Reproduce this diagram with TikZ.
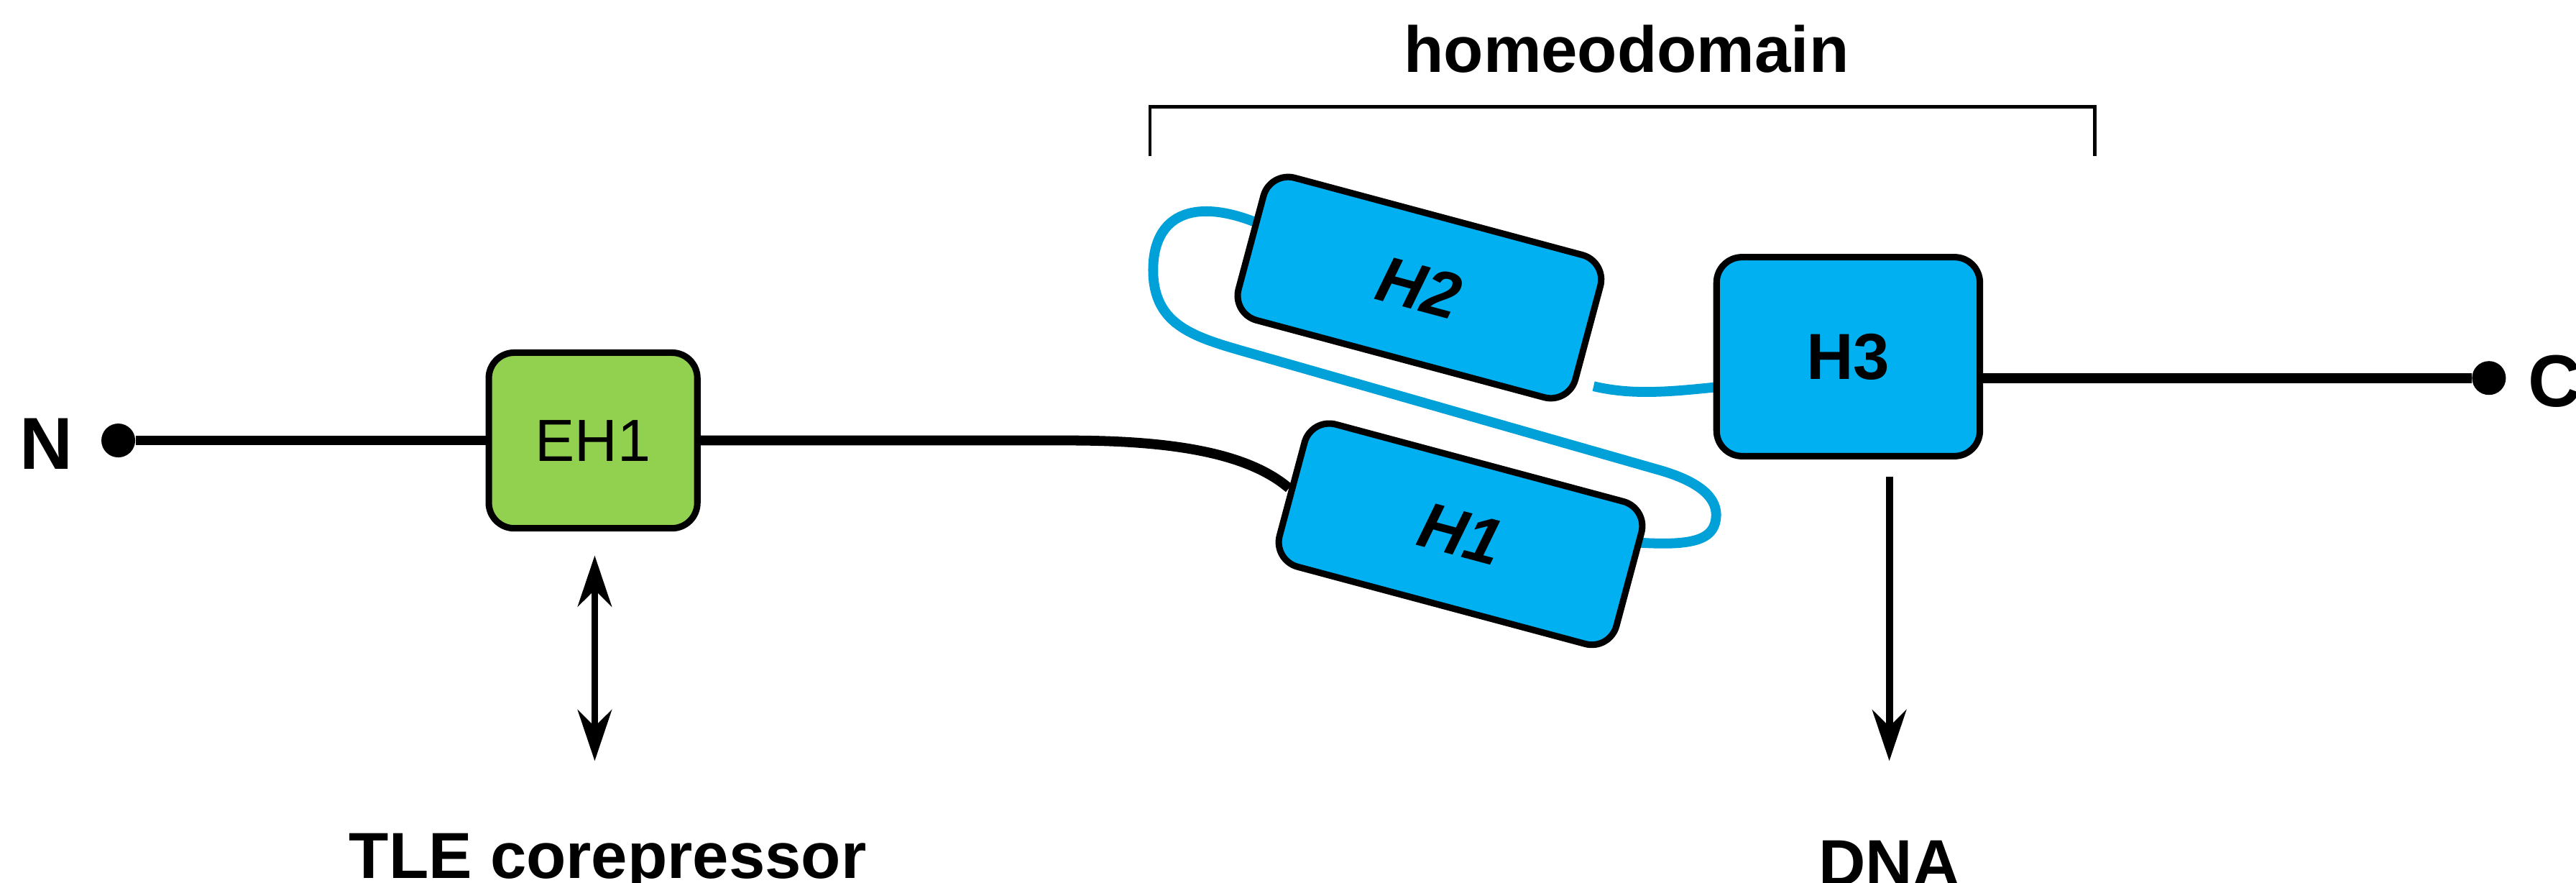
\documentclass[tikz,border=0pt]{standalone}
\usepackage{fontspec}
\setmainfont{Liberation Sans}
\usetikzlibrary{arrows.meta}
\definecolor{hblue}{HTML}{00B0F0}
\definecolor{lblue}{HTML}{00A0D8}
\definecolor{hgreen}{HTML}{92D050}
\begin{document}
\begin{tikzpicture}[x=0.020408cm,y=-0.020408cm,
  >={Stealth[length=18pt,width=12pt]},
  box/.style={draw=black,line width=2.3pt,rounded corners=9pt},
  helix/.style={box,fill=hblue,minimum width=4.33cm,minimum height=1.83cm,font=\bfseries\itshape\fontsize{23}{27}\selectfont},
  lbl/.style={font=\bfseries\fontsize{23}{27}\selectfont},
  mainline/.style={line width=3.5pt}]
\useasboundingbox (0,0) rectangle (1568,537);
% loop behind
\draw[lblue,line width=3.5pt] (775,140) .. controls (730,118) and (700,128) .. (702,168) .. controls (704,200) and (730,206) .. (765,216) -- (1010,286) .. controls (1045,296) and (1046,310) .. (1044,318) .. controls (1041,330) and (1025,332) .. (995,330);
\draw[lblue,line width=3.5pt] (970,235) .. controls (995,241) and (1020,238) .. (1050,235);
% nodes
\node[box,fill=hgreen,minimum width=2.59cm,minimum height=2.18cm,font=\fontsize{21}{25}\selectfont] (eh1) at (361,268) {EH1};
\node[helix,rotate=-15] (h1) at (889,325) {H1};
\node[helix,rotate=-15] (h2) at (864,175) {H2};
\node[box,fill=hblue,font=\bfseries\fontsize{23}{27}\selectfont,minimum width=3.27cm,minimum height=2.47cm] (h3) at (1125,217) {H3};
\node[circle,fill=black,inner sep=0pt,minimum size=0.42cm] (nd) at (72,268) {};
\node[circle,fill=black,inner sep=0pt,minimum size=0.42cm] (cd) at (1515,230) {};
\node[font=\bfseries\fontsize{26}{30}\selectfont] (N) at (28,270) {N};
\node[font=\bfseries\fontsize{26}{30}\selectfont] (C) at (1555,232) {C};
\node[lbl] (hd) at (990,30) {homeodomain};
\node[lbl] (tle) at (370,525) {TLE corepressor};
\node[lbl] (dna) at (1150,525) {DNA};
\coordinate (a1t) at (362,338);
\coordinate (a1b) at (362,463);
\coordinate (a2t) at (1150,290);
\coordinate (a2b) at (1150,463);
% lines
\draw[mainline] (nd) -- (eh1);
\draw[mainline] (eh1.east) -- (650,268) .. controls (715,268) and (760,276) .. (h1.west);
\draw[mainline] (h3.east |- 0,230) -- (cd);
\draw[line width=1.2pt] (700,95) -- (700,65) -- (1275,65) -- (1275,95);
\draw[line width=2.5pt,<->] (a1t) -- (a1b);
\draw[line width=2.5pt,->] (a2t) -- (a2b);
\end{tikzpicture}
\end{document}
